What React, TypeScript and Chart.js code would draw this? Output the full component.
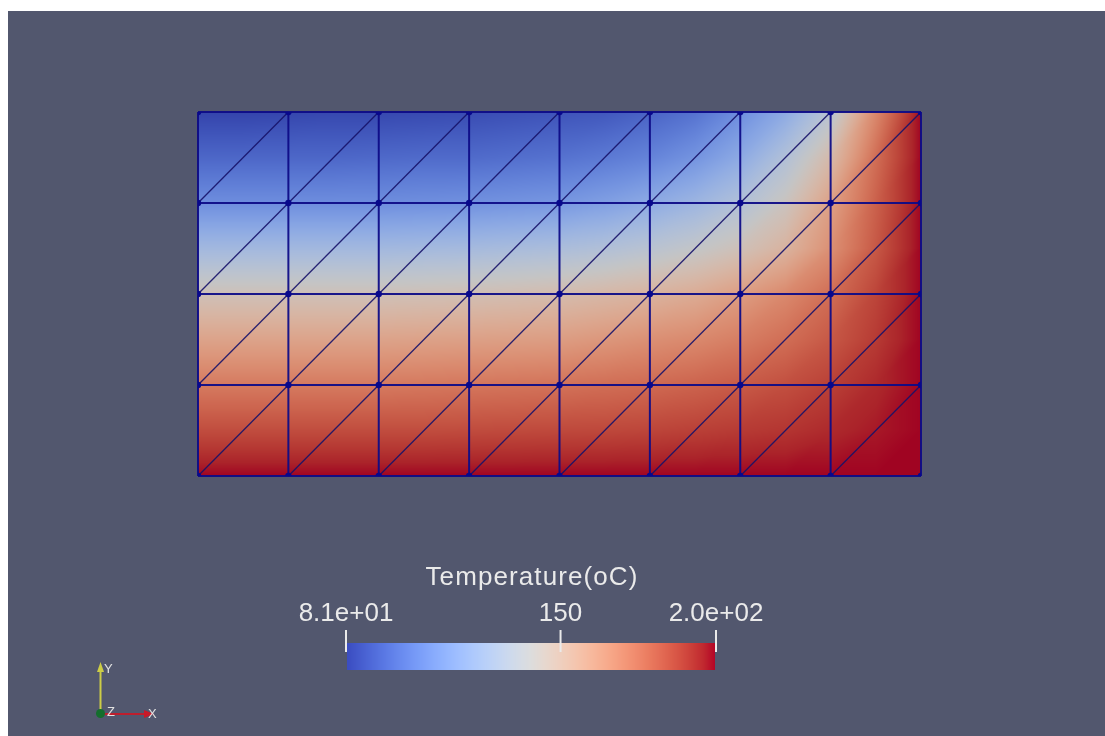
import { useEffect, useRef } from 'react';
import { Chart, registerables } from 'chart.js';

Chart.register(...registerables);

// Mesh corner nodes (8 x 4 cells, each split along the bottom-left -> top-right diagonal)
const meshX = [0, 0.25, 0.5, 0.75, 1, 1.25, 1.5, 1.75, 2];
const meshY = [0, 0.25, 0.5, 0.75, 1];

// Nodal temperatures (°C) of the quadratic triangles: corner and mid-edge nodes,
// 17 columns from x = 0 to x = 2, one array per row from the top (y = 1) down to y = 0.
const tempY1000 = [81, 81, 81.6, 82.2, 82.2, 82.8, 83.4, 84.6, 85.8, 87.0, 90.5, 95.3, 104.8, 116.7, 134.6, 170.3, 200];
const tempY0875 = [91.7, 91.7, 91.7, 91.7, 92.3, 92.9, 92.9, 94.1, 95.3, 97.7, 101.2, 107.2, 116.7, 131.0, 150.0, 178.6, 200];
const tempY0750 = [104.8, 104.8, 104.8, 104.8, 104.8, 105.4, 106.0, 107.2, 108.4, 111.9, 116.7, 122.7, 131.0, 142.9, 161.9, 182.2, 200];
const tempY0625 = [125.0, 125.0, 125.0, 125.0, 125.0, 125.6, 126.2, 127.4, 128.6, 131.0, 134.6, 139.3, 145.3, 153.6, 167.9, 184.5, 200];
const tempY0500 = [145.3, 145.3, 145.3, 145.3, 145.3, 145.9, 146.5, 147.6, 148.8, 151.2, 153.6, 157.2, 163.1, 170.3, 178.6, 189.3, 200];
const tempY0375 = [160.7, 160.7, 160.7, 160.7, 160.7, 161.3, 161.9, 162.5, 163.1, 165.5, 167.9, 170.3, 173.8, 178.6, 184.5, 191.7, 200];
const tempY0250 = [175.0, 175.0, 175.0, 175.0, 175.0, 175.6, 176.2, 176.8, 177.4, 178.6, 179.8, 181.6, 183.9, 186.9, 190.5, 195.2, 200];
const tempY0125 = [187.5, 187.5, 187.5, 187.5, 187.5, 187.5, 187.8, 188.1, 188.4, 188.7, 189.3, 190.5, 191.7, 192.9, 195.2, 197.6, 200];
const tempY0000 = [200, 200, 200, 200, 200, 200, 200, 200, 200, 200, 200, 200, 200, 200, 200, 200, 200];

// Color legend
const cbTitle = 'Temperature(oC)';
const cbMin = 81;
const cbMax = 200;
const cbTicks = [81, 150, 200];
const cbTickLabels = ['8.1e+01', '150', '2.0e+02'];

// Rows ordered bottom (index 0) to top
const tempRows = [tempY0000, tempY0125, tempY0250, tempY0375, tempY0500, tempY0625, tempY0750, tempY0875, tempY1000];

// "Cool to Warm" diverging color map, 33 samples
const coolWarm: number[][] = [
  [0.2298057, 0.298717966, 0.753683153],
  [0.26623388, 0.353094838, 0.801466763],
  [0.30386891, 0.406535296, 0.84495867],
  [0.342804478, 0.458757618, 0.883725899],
  [0.38301334, 0.50941904, 0.917387822],
  [0.424369608, 0.558148092, 0.945619588],
  [0.46666708, 0.604562568, 0.968154911],
  [0.509635204, 0.648280772, 0.98478814],
  [0.552953156, 0.688929332, 0.995375608],
  [0.596262162, 0.726149107, 0.999836203],
  [0.639176211, 0.759599947, 0.998151185],
  [0.681291281, 0.788964712, 0.990363227],
  [0.722193294, 0.813952739, 0.976574709],
  [0.761464949, 0.834302879, 0.956945269],
  [0.798691636, 0.849786142, 0.931689393],
  [0.833466556, 0.860207984, 0.901068838],
  [0.865395197, 0.86541021, 0.865395561],
  [0.897787179, 0.848937047, 0.820880546],
  [0.924127593, 0.827384882, 0.774508472],
  [0.944468518, 0.800927443, 0.726736146],
  [0.958852946, 0.769767752, 0.678007945],
  [0.96732803, 0.734132809, 0.628751763],
  [0.969954137, 0.694266682, 0.579375448],
  [0.966811177, 0.650421156, 0.530263762],
  [0.958003065, 0.602842431, 0.481775914],
  [0.943660866, 0.551750968, 0.434243684],
  [0.923944917, 0.49730856, 0.387970225],
  [0.89904617, 0.439559467, 0.343229596],
  [0.869186849, 0.378313092, 0.300267182],
  [0.834620542, 0.312874446, 0.259301199],
  [0.795631745, 0.24128379, 0.220525627],
  [0.752534934, 0.157246067, 0.184115123],
  [0.705673158, 0.01555616, 0.150232812],
];

const BG = 'rgb(82,87,110)';
const EDGE = 'rgba(14,12,135,0.95)';
const TEXT = 'rgb(234,234,234)';
const FONT = '"Liberation Sans", Arial, sans-serif';

function colorAt(value: number): [number, number, number] {
  let t = (value - cbMin) / (cbMax - cbMin);
  t = Math.max(0, Math.min(1, t));
  const f = t * (coolWarm.length - 1);
  const i = Math.min(coolWarm.length - 2, Math.floor(f));
  const a = f - i;
  const c0 = coolWarm[i];
  const c1 = coolWarm[i + 1];
  return [
    (c0[0] + (c1[0] - c0[0]) * a) * 255,
    (c0[1] + (c1[1] - c0[1]) * a) * 255,
    (c0[2] + (c1[2] - c0[2]) * a) * 255,
  ];
}

// Linear interpolation on the refined triangle grid (quadratic elements split in four)
function temperatureAt(x: number, y: number): number {
  const nx = tempRows[0].length - 1;
  const ny = tempRows.length - 1;
  const x0 = meshX[0];
  const x1 = meshX[meshX.length - 1];
  const y0 = meshY[0];
  const y1 = meshY[meshY.length - 1];
  const u = Math.max(0, Math.min(nx - 1e-9, ((x - x0) / (x1 - x0)) * nx));
  const v = Math.max(0, Math.min(ny - 1e-9, ((y - y0) / (y1 - y0)) * ny));
  const ci = Math.floor(u);
  const cj = Math.floor(v);
  const a = u - ci;
  const b = v - cj;
  const bl = tempRows[cj][ci];
  const br = tempRows[cj][ci + 1];
  const tl = tempRows[cj + 1][ci];
  const tr = tempRows[cj + 1][ci + 1];
  if (a >= b) return bl + a * (br - bl) + b * (tr - br);
  return bl + b * (tl - bl) + a * (tr - tl);
}

const meshPlugin = {
  id: 'meshField',
  beforeDraw(chart: any) {
    const { ctx, width, height } = chart;
    ctx.save();
    ctx.fillStyle = BG;
    ctx.fillRect(0, 0, width, height);
    ctx.restore();
  },
  beforeDatasetsDraw(chart: any) {
    const { ctx, scales } = chart;
    const xs = scales.x;
    const ys = scales.y;
    const left = Math.round(xs.getPixelForValue(meshX[0]));
    const right = Math.round(xs.getPixelForValue(meshX[meshX.length - 1]));
    const top = Math.round(ys.getPixelForValue(meshY[meshY.length - 1]));
    const bottom = Math.round(ys.getPixelForValue(meshY[0]));
    const w = right - left;
    const h = bottom - top;
    const img = ctx.createImageData(w, h);
    // surface lighting makes the mesh slightly darker than the legend bar
    const shade = 0.89;
    for (let py = 0; py < h; py++) {
      const yv = ys.getValueForPixel(top + py + 0.5);
      for (let px = 0; px < w; px++) {
        const xv = xs.getValueForPixel(left + px + 0.5);
        const c = colorAt(temperatureAt(xv, yv));
        const k = (py * w + px) * 4;
        img.data[k] = c[0] * shade;
        img.data[k + 1] = c[1] * shade;
        img.data[k + 2] = c[2] * shade;
        img.data[k + 3] = 255;
      }
    }
    ctx.putImageData(img, left, top);

    ctx.save();
    // diagonals
    ctx.strokeStyle = 'rgba(22,18,105,0.9)';
    ctx.lineWidth = 1.3;
    for (let i = 0; i < meshX.length - 1; i++) {
      for (let j = 0; j < meshY.length - 1; j++) {
        ctx.beginPath();
        ctx.moveTo(xs.getPixelForValue(meshX[i]), ys.getPixelForValue(meshY[j]));
        ctx.lineTo(xs.getPixelForValue(meshX[i + 1]), ys.getPixelForValue(meshY[j + 1]));
        ctx.stroke();
      }
    }
    // cell edges
    ctx.strokeStyle = EDGE;
    ctx.lineWidth = 2;
    for (const xv of meshX) {
      const p = xs.getPixelForValue(xv);
      ctx.beginPath();
      ctx.moveTo(p, ys.getPixelForValue(meshY[0]));
      ctx.lineTo(p, ys.getPixelForValue(meshY[meshY.length - 1]));
      ctx.stroke();
    }
    for (const yv of meshY) {
      const p = ys.getPixelForValue(yv);
      ctx.beginPath();
      ctx.moveTo(xs.getPixelForValue(meshX[0]), p);
      ctx.lineTo(xs.getPixelForValue(meshX[meshX.length - 1]), p);
      ctx.stroke();
    }
    ctx.restore();
  },
  afterDraw(chart: any) {
    const { ctx } = chart;
    ctx.save();

    // Color legend bar
    const barL = 339;
    const barR = 707;
    const barT = 632;
    const barB = 659;
    for (let px = barL; px < barR; px++) {
      const v = cbMin + ((px + 0.5 - barL) / (barR - barL)) * (cbMax - cbMin);
      const c = colorAt(v);
      ctx.fillStyle = `rgb(${c[0].toFixed(0)},${c[1].toFixed(0)},${c[2].toFixed(0)})`;
      ctx.fillRect(px, barT, 1, barB - barT);
    }
    ctx.fillStyle = TEXT;
    ctx.strokeStyle = TEXT;
    ctx.lineWidth = 2;
    ctx.font = `26px ${FONT}`;
    ctx.textAlign = 'center';
    ctx.textBaseline = 'alphabetic';
    cbTicks.forEach((v, i) => {
      const x = barL - 1 + ((v - cbMin) / (cbMax - cbMin)) * (barR - barL + 2);
      ctx.beginPath();
      ctx.moveTo(x, 619);
      ctx.lineTo(x, 641);
      ctx.stroke();
      ctx.fillText(cbTickLabels[i], x, 610);
    });
    ctx.letterSpacing = '1.1px';
    ctx.fillText(cbTitle, (barL + barR) / 2 + 1, 574);
    ctx.letterSpacing = '0px';

    // Orientation axes
    const ox = 92.5;
    const oy = 702.5;
    ctx.strokeStyle = 'rgb(205,205,70)';
    ctx.fillStyle = 'rgb(205,205,70)';
    ctx.lineWidth = 2;
    ctx.beginPath();
    ctx.moveTo(ox, oy);
    ctx.lineTo(ox, 660);
    ctx.stroke();
    ctx.beginPath();
    ctx.moveTo(ox - 3.5, 661);
    ctx.lineTo(ox + 3.5, 661);
    ctx.lineTo(ox, 651);
    ctx.closePath();
    ctx.fill();

    ctx.strokeStyle = 'rgb(190,30,45)';
    ctx.fillStyle = 'rgb(200,25,40)';
    ctx.beginPath();
    ctx.moveTo(ox, oy + 0.5);
    ctx.lineTo(137, oy + 0.5);
    ctx.stroke();
    ctx.beginPath();
    ctx.moveTo(136, oy - 3.5);
    ctx.lineTo(136, oy + 4.5);
    ctx.lineTo(146, oy + 0.5);
    ctx.closePath();
    ctx.fill();

    ctx.fillStyle = 'rgb(20,110,45)';
    ctx.beginPath();
    ctx.arc(ox, oy, 4.5, 0, Math.PI * 2);
    ctx.fill();

    ctx.fillStyle = 'rgb(225,225,225)';
    ctx.font = `13px ${FONT}`;
    ctx.textAlign = 'left';
    ctx.fillText('Y', 96, 662);
    ctx.fillText('Z', 99, 705);
    ctx.fillText('X', 140, 707);

    ctx.restore();
  },
};

export default function App() {
  const canvasRef = useRef<HTMLCanvasElement | null>(null);

  useEffect(() => {
    const canvas = canvasRef.current;
    if (!canvas) return;
    const nodes: { x: number; y: number }[] = [];
    for (const y of meshY) for (const x of meshX) nodes.push({ x, y });

    const chart = new Chart(canvas, {
      type: 'scatter',
      data: {
        datasets: [
          {
            data: nodes,
            pointRadius: 3.2,
            pointBackgroundColor: 'rgb(8,8,140)',
            pointBorderWidth: 0,
          },
        ],
      },
      options: {
        animation: false,
        responsive: false,
        maintainAspectRatio: false,
        events: [],
        layout: { padding: { left: 190, right: 184, top: 101, bottom: 260 } },
        plugins: { legend: { display: false }, tooltip: { enabled: false }, title: { display: false } },
        scales: {
          x: { type: 'linear', min: meshX[0], max: meshX[meshX.length - 1], display: false },
          y: { type: 'linear', min: meshY[0], max: meshY[meshY.length - 1], display: false },
        },
      },
      plugins: [meshPlugin],
    });
    return () => chart.destroy();
  }, []);

  return (
    <div style={{ position: 'absolute', left: 8, top: 11, width: 1097, height: 725, overflow: 'hidden' }}>
      <canvas ref={canvasRef} width={1097} height={725} style={{ display: 'block', width: 1097, height: 725 }} />
    </div>
  );
}
